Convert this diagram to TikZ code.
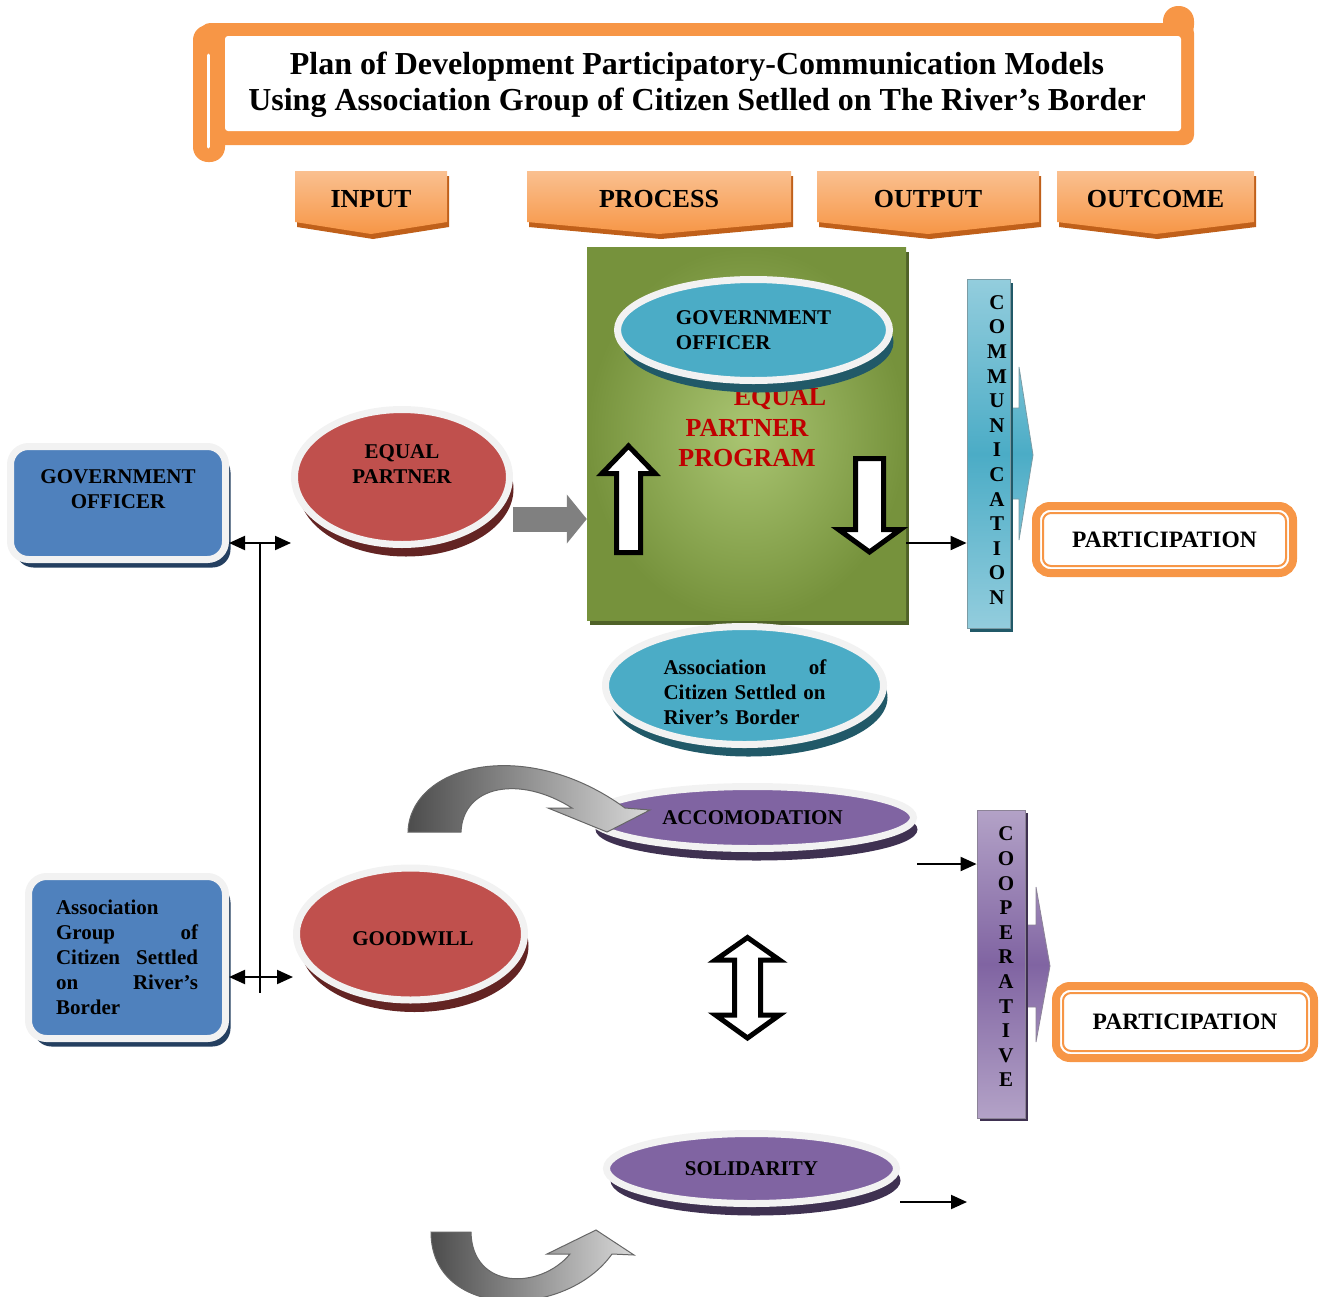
\documentclass[tikz,border=0pt]{standalone}
\usepackage{fontspec}
\setmainfont{Liberation Serif}
\usetikzlibrary{arrows.meta,calc,positioning,shapes.geometric,shadows}
\definecolor{scrollOrange}{HTML}{F79646}
\definecolor{hdrLight}{HTML}{FAC090}
\definecolor{hdrEdge}{HTML}{C0601A}
\definecolor{progGreen}{HTML}{9BBB59}
\definecolor{progGreenDk}{HTML}{76923C}
\definecolor{progShadow}{HTML}{4F6228}
\definecolor{aquaFill}{HTML}{4BACC6}
\definecolor{aquaLight}{HTML}{93CDDD}
\definecolor{aquaShadow}{HTML}{215968}
\definecolor{redFill}{HTML}{C0504D}
\definecolor{redShadow}{HTML}{632423}
\definecolor{blueFill}{HTML}{4F81BD}
\definecolor{blueShadow}{HTML}{243F60}
\definecolor{purpleFill}{HTML}{8064A2}
\definecolor{purpleLight}{HTML}{B3A2C7}
\definecolor{purpleShadow}{HTML}{3F3151}
\definecolor{ringWhite}{HTML}{F2F2F2}
\definecolor{progRed}{HTML}{C00000}
\tikzset{
  titletext/.style={font=\bfseries\fontsize{32}{36}\selectfont, align=center},
  hdrtext/.style={font=\bfseries\fontsize{26}{30}\selectfont},
  hdrfill/.style={top color=hdrLight, bottom color=scrollOrange,
    drop shadow={shadow xshift=2pt, shadow yshift=-5pt, fill=hdrEdge,
      opacity=1}},
  planfont/.style={font=\bfseries\fontsize{21}{25}\selectfont},
  planoval/.style 2 args={ellipse, fill=#1, draw=ringWhite,
    line width=7pt, inner sep=0pt, align=center, planfont,
    drop shadow={shadow xshift=4pt, shadow yshift=-12pt, fill=#2,
      opacity=1}},
  planbox/.style={rectangle, rounded corners=18pt, fill=blueFill,
    draw=ringWhite, line width=7pt, planfont, inner sep=0pt,
    minimum width=215pt, minimum height=113pt,
    drop shadow={shadow xshift=5pt, shadow yshift=-8pt, fill=blueShadow,
      opacity=1}},
  ovaltext/.style={planfont, align=center},
  progbox/.style={rectangle, minimum width=319pt, minimum height=373pt,
    inner color=progGreen!85!white, outer color=progGreenDk,
    drop shadow={shadow xshift=3pt, shadow yshift=-4pt, fill=progShadow,
      opacity=1}},
  progtext/.style={font=\bfseries\fontsize{26}{30.5}\selectfont,
    text=progRed, align=center},
  blockarrow/.style={draw=black, line width=5pt, fill=white},
  commbarstyle/.style={rectangle, top color=aquaLight,
    bottom color=aquaLight, middle color=aquaFill, draw=aquaShadow!60,
    line width=0.8pt, drop shadow={shadow xshift=3pt, shadow yshift=-3pt,
      fill=aquaShadow, opacity=1}},
  coopbarstyle/.style={rectangle, top color=purpleLight,
    bottom color=purpleLight, middle color=purpleFill,
    draw=purpleShadow!60, line width=0.8pt,
    drop shadow={shadow xshift=3pt, shadow yshift=-3pt,
      fill=purpleShadow, opacity=1}},
  bartext/.style={font=\bfseries\fontsize{21}{24.6}\selectfont,
    align=center},
  partbox/.style={rectangle, rounded corners=14pt, draw=scrollOrange,
    line width=8pt, fill=white,
    font=\bfseries\fontsize{23.5}{28}\selectfont},
  partinner/.style={draw=scrollOrange, line width=2pt,
    rounded corners=8pt},
  conn/.style={-{Triangle[length=16pt,width=14pt]}, line width=2pt},
  dblconn/.style={{Triangle[length=16pt,width=14pt]}-{Triangle[length=16pt,width=14pt]},
    line width=2pt},
  grayflow/.style={draw=black!50, line width=25pt,
    -{Triangle[length=20pt 0 0,width=48pt 0 0]}},
  curveflow/.style={left color=black!70, right color=black!15,
    draw=black!60, line width=1pt},
}
\newcommand{\planheader}[4]{%
  \shade[hdrfill] (#2,171) -- (#3,171) -- (#3,222) -- ({(#2+#3)/2},234)
    -- (#2,222) -- cycle;%
  \node[hdrtext] (#1) at ({(#2+#3)/2},199) {#4};%
}

\begin{document}
\begin{tikzpicture}[x=1pt,y=-1pt]
  \useasboundingbox (0,0) rectangle (1320,1296);

  % title scroll
  \fill[scrollOrange,rounded corners=10pt] (200,23) rectangle (1194,145);
  \fill[scrollOrange,rounded corners=15pt] (193,25) rectangle (225,162);
  \fill[scrollOrange,rounded corners=15pt] (1163,6) rectangle (1194,40);
  \fill[white,rounded corners=3pt] (225,36) rectangle (1181,131);
  \draw[white,line width=3pt,line cap=round] (208,55) -- (208,147);
  \node[titletext] (title) at (697,85)
    {Plan of Development Participatory-Communication Models\\
     Using Association Group of Citizen Setlled on The River’s Border};

  % column headers
  \planheader{hdrinput}{295}{447}{INPUT}
  \planheader{hdrprocess}{527}{791}{PROCESS}
  \planheader{hdroutput}{817}{1039}{OUTPUT}
  \planheader{hdroutcome}{1057}{1254}{OUTCOME}

  % process block
  \node[progbox] (progbox) at (746.5,434) {};
  \node[progtext] (progtxt) at (747,428)
    {\hspace*{66pt}EQUAL\\PARTNER\\PROGRAM};
  \node[planoval={aquaFill}{aquaShadow},minimum width=272pt,
    minimum height=101pt,align=left] (govoval) at (753.5,330)
    {GOVERNMENT\\OFFICER};
  \draw[blockarrow] (616.5,552.5) -- (616.5,473.5) -- (602,473.5)
    -- (628.5,446) -- (655,473.5) -- (640.5,473.5) -- (640.5,552.5) -- cycle;
  \draw[blockarrow] (855.5,458.5) -- (883.5,458.5) -- (883.5,529.5)
    -- (900.5,529.5) -- (869.5,552) -- (838.5,529.5) -- (855.5,529.5) -- cycle;
  \node[planoval={aquaFill}{aquaShadow},minimum width=278pt,
    minimum height=118pt] (citizenoval) at (744.5,685.5) {};
  \node[ovaltext,text width=163pt,align=left] (citizentxt) at (745,692)
    {Association\hfill of\\Citizen Settled on\\River’s Border};

  % inputs
  \node[planbox] (govbox) at (118,503) {};
  \node[ovaltext] (govboxtxt) at (118,489) {GOVERNMENT\\OFFICER};
  \node[planbox,minimum width=197pt,minimum height=162pt,text width=142pt,
    align=left] (assocbox) at (127,957.5)
    {Association\\Group\hfill of\\Citizen\hfill Settled\\on\hfill River’s\\Border};
  \node[planoval={redFill}{redShadow},minimum width=215pt,
    minimum height=135pt] (eqpartner) at (402,477) {};
  \node[ovaltext] (eqpartnertxt) at (402,464) {EQUAL\\PARTNER};
  \node[planoval={redFill}{redShadow},minimum width=228pt,
    minimum height=132pt] (goodwill) at (410.5,934) {};
  \node[ovaltext] (goodwilltxt) at (413,939) {GOODWILL};

  % lower process items
  \node[planoval={purpleFill}{purpleShadow},minimum width=322pt,
    minimum height=62pt] (accom) at (752.5,817.5) {ACCOMODATION};
  \shade[curveflow] (408,832) .. controls (410,765) and (525,735) .. (625,808)
    -- (650,810) -- (607,832) -- (548,808) -- (572,808)
    .. controls (520,775) and (463,785) .. (461,832) -- cycle;
  \draw[blockarrow] (747.5,937.5) -- (779.5,960) -- (760.5,960)
    -- (760.5,1015) -- (779.5,1015) -- (747.5,1038) -- (715.5,1015)
    -- (734.5,1015) -- (734.5,960) -- (715.5,960) -- cycle;
  \node[planoval={purpleFill}{purpleShadow},minimum width=290pt,
    minimum height=70pt] (solid) at (751.5,1168.5) {SOLIDARITY};
  \shade[curveflow] (431,1232) .. controls (431,1320) and (565,1320) .. (612,1254)
    -- (634,1255) -- (596,1230) -- (547,1254) -- (570,1254)
    .. controls (540,1290) and (472,1290) .. (471,1232) -- cycle;

  % output bars
  \shade[top color=aquaFill!75!white,bottom color=aquaFill!75!white,
    middle color=aquaFill,draw=aquaShadow!60,line width=0.8pt]
    (1008,408) -- (1019,408) -- (1019,367) -- (1033,455) -- (1019,540)
    -- (1019,499) -- (1008,499) -- cycle;
  \node[commbarstyle,minimum width=43pt,minimum height=349pt] (commbar)
    at (988.5,454) {};
  \node[bartext] (commtxt) at (997,450)
    {C\\O\\M\\M\\U\\N\\I\\C\\A\\T\\I\\O\\N};
  \shade[top color=purpleFill!75!white,bottom color=purpleFill!75!white,
    middle color=purpleFill,draw=purpleShadow!60,line width=0.8pt]
    (1023,925) -- (1036,925) -- (1036,887) -- (1050,966) -- (1036,1042)
    -- (1036,1007) -- (1023,1007) -- cycle;
  \node[coopbarstyle,minimum width=48pt,minimum height=308pt] (coopbar)
    at (1001,964) {};
  \node[bartext] (cooptxt) at (1006,957)
    {C\\O\\O\\P\\E\\R\\A\\T\\I\\V\\E};

  % outcomes
  \node[partbox,minimum width=257pt,minimum height=67pt] (part1)
    at (1164.5,539.5) {PARTICIPATION};
  \draw[partinner] ([shift={(11,-11)}]part1.south west)
    rectangle ([shift={(-11,11)}]part1.north east);
  \node[partbox,minimum width=258pt,minimum height=72pt] (part2)
    at (1185,1022) {PARTICIPATION};
  \draw[partinner] ([shift={(11,-11)}]part2.south west)
    rectangle ([shift={(-11,11)}]part2.north east);

  % connectors
  \coordinate (jtop) at (260,543);
  \coordinate (jlow) at (260,977);
  \coordinate (jend) at (260,993);
  \coordinate (grayrow) at (550,519);
  \coordinate (outrow) at (935,543);
  \coordinate (accrow) at (945,864);
  \coordinate (solend) at (967,1202);
  \draw[line width=2pt] (jtop) -- (jend);
  \draw[dblconn] (govbox.east |- jtop) -- (eqpartner.west |- jtop);
  \draw[dblconn] (assocbox.east |- jlow) -- (goodwill.west |- jlow);
  \draw[grayflow] (eqpartner.east |- grayrow) -- (progbox.west |- grayrow);
  \draw[conn] (progbox.east |- outrow) -- (commbar.west |- outrow);
  \draw[conn] (accom.east |- accrow) -- (coopbar.west |- accrow);
  \draw[conn] (solid.east |- solend) -- (solend);
\end{tikzpicture}
\end{document}
